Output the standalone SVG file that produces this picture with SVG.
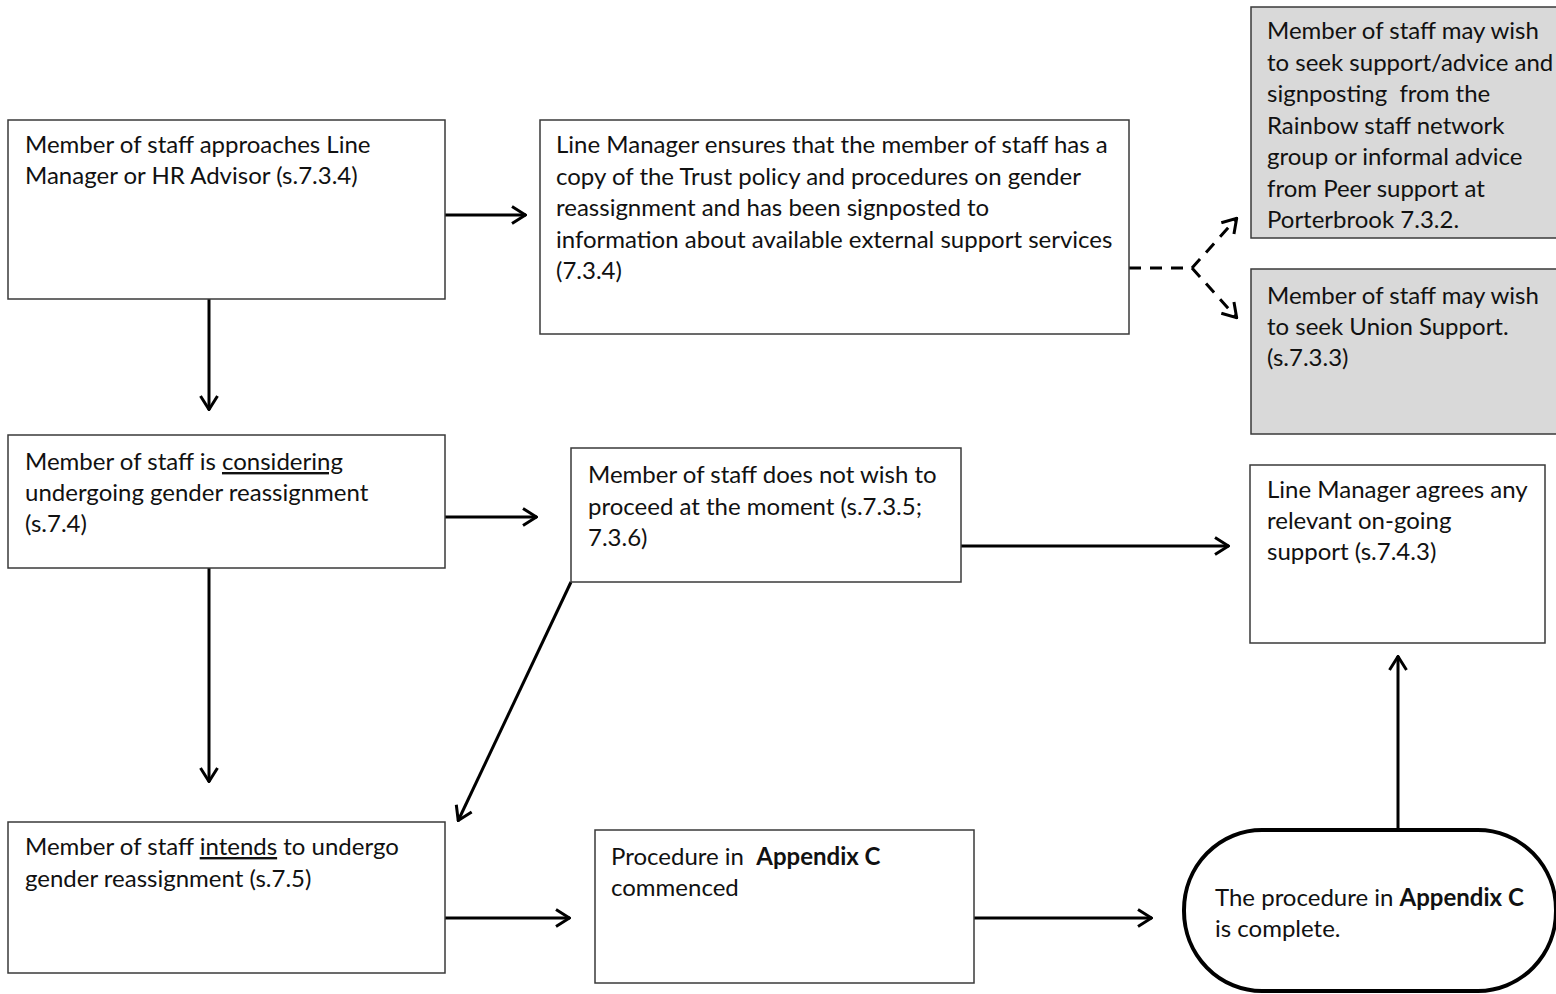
<svg xmlns="http://www.w3.org/2000/svg" width="1556" height="994" viewBox="0 0 1556 994">
<style>
.box{fill:#ffffff;stroke:#3a3a3a;stroke-width:1.5}
.grey{fill:#d9d9d9;stroke:#3a3a3a;stroke-width:1.5}
.term{fill:#ffffff;stroke:#000000;stroke-width:4}
text{font-family:Lato,"Liberation Sans",sans-serif;font-size:24px;fill:#111111}
.b{font-weight:bold}
.u{text-decoration:underline}
.c{stroke:#000000;stroke-width:3;fill:none}
.d{stroke:#000000;stroke-width:3;fill:none;stroke-dasharray:12 9}
</style>
<defs>
<marker id="ah" viewBox="0 0 16 20" refX="15" refY="10" markerWidth="16" markerHeight="20" markerUnits="userSpaceOnUse" orient="auto">
<polyline points="1,1.5 14.5,10 1,18.5" fill="none" stroke="#000000" stroke-width="3"/>
</marker>
</defs>
<g id="connectors">
<line class="c" x1="445" y1="215" x2="526" y2="215" marker-end="url(#ah)"/>
<line class="c" x1="209" y1="299" x2="209" y2="410" marker-end="url(#ah)"/>
<polyline class="d" points="1129,268 1192,268 1237,218" marker-end="url(#ah)"/>
<line class="d" x1="1192" y1="268" x2="1237" y2="318" marker-end="url(#ah)"/>
<line class="c" x1="445" y1="517" x2="537" y2="517" marker-end="url(#ah)"/>
<line class="c" x1="961" y1="546" x2="1229" y2="546" marker-end="url(#ah)"/>
<line class="c" x1="209" y1="568" x2="209" y2="782" marker-end="url(#ah)"/>
<line class="c" x1="571" y1="582" x2="458" y2="821" marker-end="url(#ah)"/>
<line class="c" x1="445" y1="918" x2="570" y2="918" marker-end="url(#ah)"/>
<line class="c" x1="974" y1="918" x2="1152" y2="918" marker-end="url(#ah)"/>
<line class="c" x1="1398" y1="829" x2="1398" y2="656" marker-end="url(#ah)"/>
</g>
<g id="n1">
<rect class="box" x="8" y="120" width="437" height="179"/>
<text x="25" y="153">Member of staff approaches Line</text>
<text x="25" y="184">Manager or HR Advisor (s.7.3.4)</text>
</g>
<g id="n2">
<rect class="box" x="540" y="120" width="589" height="214"/>
<text x="556" y="153">Line Manager ensures that the member of staff has a</text>
<text x="556" y="185">copy of the Trust policy and procedures on gender</text>
<text x="556" y="216">reassignment and has been signposted to</text>
<text x="556" y="248">information about available external support services</text>
<text x="556" y="279">(7.3.4)</text>
</g>
<g id="n3">
<rect class="grey" x="1251" y="7" width="310" height="231"/>
<text x="1267" y="39">Member of staff may wish</text>
<text x="1267" y="71">to seek support/advice and</text>
<text x="1267" y="102" xml:space="preserve">signposting  from the</text>
<text x="1267" y="134">Rainbow staff network</text>
<text x="1267" y="165">group or informal advice</text>
<text x="1267" y="197">from Peer support at</text>
<text x="1267" y="228">Porterbrook 7.3.2.</text>
</g>
<g id="n4">
<rect class="grey" x="1251" y="269" width="310" height="165"/>
<text x="1267" y="304">Member of staff may wish</text>
<text x="1267" y="335">to seek Union Support.</text>
<text x="1267" y="366">(s.7.3.3)</text>
</g>
<g id="n5">
<rect class="box" x="8" y="435" width="437" height="133"/>
<text x="25" y="470">Member of staff is <tspan class="u">considering</tspan></text>
<text x="25" y="501">undergoing gender reassignment</text>
<text x="25" y="532">(s.7.4)</text>
</g>
<g id="n6">
<rect class="box" x="571" y="448" width="390" height="134"/>
<text x="588" y="483">Member of staff does not wish to</text>
<text x="588" y="515">proceed at the moment (s.7.3.5;</text>
<text x="588" y="546">7.3.6)</text>
</g>
<g id="n7">
<rect class="box" x="1250" y="465" width="295" height="178"/>
<text x="1267" y="498">Line Manager agrees any</text>
<text x="1267" y="529">relevant on-going</text>
<text x="1267" y="560">support (s.7.4.3)</text>
</g>
<g id="n8">
<rect class="box" x="8" y="822" width="437" height="151"/>
<text x="25" y="855">Member of staff <tspan class="u">intends</tspan> to undergo</text>
<text x="25" y="887">gender reassignment (s.7.5)</text>
</g>
<g id="n9">
<rect class="box" x="595" y="830" width="379" height="153"/>
<text x="611" y="865" xml:space="preserve">Procedure in  <tspan class="b">Appendix C</tspan></text>
<text x="611" y="896">commenced</text>
</g>
<g id="n10">
<rect class="term" x="1184" y="830" width="372" height="161" rx="78" ry="80"/>
<text x="1215" y="906">The procedure in <tspan class="b">Appendix C</tspan></text>
<text x="1215" y="937">is complete.</text>
</g>
</svg>
